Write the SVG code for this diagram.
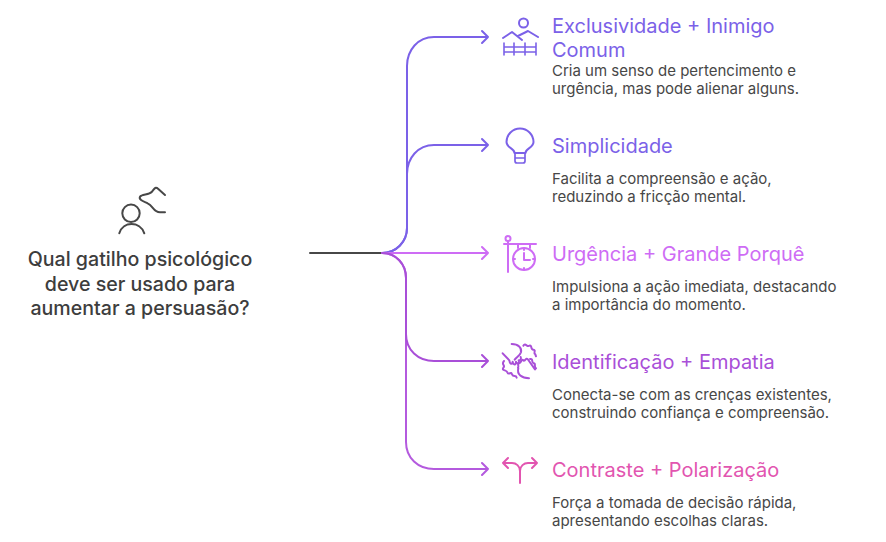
<svg xmlns="http://www.w3.org/2000/svg" width="886" height="542" viewBox="0 0 886 542">
<style>
text{font-family:Inter,"Liberation Sans",sans-serif}
.t{font-size:20px}
.d{font-size:15px;fill:#474747}
.q{font-size:19.600px;font-weight:500;fill:#3d3d3d;text-anchor:middle}
.l{fill:none;stroke-width:2;stroke-linecap:round;stroke-linejoin:round}
.i{fill:none;stroke-width:2;stroke-linecap:round;stroke-linejoin:round}
.z{stroke-width:6}
.a{stroke:#7b61e8}.c{stroke:#ce6cf5}.e{stroke:#a94fd8}.f{stroke:#e255b0}
</style>
<rect width="886" height="542" fill="#fff"/>
<g id="connectors">
<path class="l" stroke="#474747" d="M310 253H382"/>
<path class="l a" d="M382 253C396 253 407 242 407 228V66C407 50 418 37 434 37H488M482 31l6 6-6 6"/>
<path class="l a" d="M382 253C396 253 407 242 407 228V174C407 158 418 145 434 145H488M482 139l6 6-6 6"/>
<path class="l c" d="M382 253H488M482 247l6 6-6 6"/>
<path class="l" stroke="#b45ade" d="M382 253C396 253 406 264 406 278V442C406 458 418 469 434 469H488M482 463l6 6-6 6"/>
<path class="l e" d="M382 253C396 253 406 264 406 278V334C406 350 418 361 434 361H488M482 355l6 6-6 6"/>
</g>
<g id="root">
<g class="i" stroke="#474747">
<circle cx="131" cy="213.300" r="8.700"/>
<path d="M119.300 233.300C123 221 140 221 144.300 233.300"/>
<path class="z" transform="translate(105 180) scale(.3333)" d="M180 45L160 27C150 18 147 28 140 36C132 45 110 42 105 50C100 60 118 65 128 70C145 78 145 97 165 97H180"/>
</g>
<text class="q" x="140" y="266">Qual gatilho psicológico</text>
<text class="q" x="140" y="291">deve ser usado para</text>
<text class="q" x="140" y="315">aumentar a persuasão?</text>
</g>
<g id="n1">
<g class="i a">
<circle cx="523.500" cy="23" r="4.500"/>
<path d="M503 38L512 32L522 40M518 36L528 31L538 37"/>
<path d="M504 43V55M514 43V55M525 43V55M536 43V55M504 47H536M504 52H536" stroke-width="1.600"/>
</g>
<text class="t" x="552" y="33" fill="#7b61e8">Exclusividade + Inimigo</text>
<text class="t" x="552" y="57" fill="#7b61e8">Comum</text>
<text class="d" x="552" y="75.500">Cria um senso de pertencimento e</text>
<text class="d" x="552" y="93.500">urgência, mas pode alienar alguns.</text>
</g>
<g id="n2">
<g class="i a">
<path d="M514.500 153C514.500 148 506.500 148 506.500 142A13.500 13.500 0 0 1 533.500 142C533.500 148 525.500 148 525.500 153Z"/>
<path d="M515 153V161Q515 163 517 163H523Q525 163 525 161V153M515 158H525" stroke-width="1.700"/>
</g>
<text class="t" x="552" y="153" fill="#7b61e8">Simplicidade</text>
<text class="d" x="552" y="184">Facilita a compreensão e ação,</text>
<text class="d" x="552" y="202">reduzindo a fricção mental.</text>
</g>
<g id="n3">
<g class="i c">
<circle cx="508" cy="238.500" r="2.500"/>
<path d="M508 241V272M504 244H536M518 244V248M530 244V248"/>
<circle cx="524" cy="259" r="11"/>
<path d="M524 253V260H530M524 248.500V250M524 268V269.500M513.500 259H515M533 259H534.500"/>
</g>
<text class="t" x="552" y="261" fill="#ce6cf5">Urgência + Grande Porquê</text>
<text class="d" x="552" y="292">Impulsiona a ação imediata, destacando</text>
<text class="d" x="552" y="310">a importância do momento.</text>
</g>
<g id="n4">
<g class="i e z" transform="translate(490 335) scale(.3333)">
<path d="M65 27C85 27 96 38 93 52C90 62 80 66 74 74"/>
<path d="M38 55L58 76C60 90 68 88 68 80C70 92 78 90 78 80C82 90 90 84 86 76C92 76 94 72 92 66"/>
<path d="M42 78C32 88 48 92 40 98C34 108 50 104 52 112C56 122 64 108 66 118C70 128 78 118 80 128"/>
<path d="M100 32C106 22 112 38 118 32C128 30 120 44 130 44C140 46 128 54 136 58L138 64"/>
<path d="M135 103L115 75C109 64 103 82 100 76C94 70 94 84 88 84C80 86 88 94 84 98"/>
<path d="M85 100C80 118 95 130 117 130"/>
<path d="M120 72C130 70 124 82 130 84C140 86 130 94 138 100"/>
</g>
<text class="t" x="552" y="369" fill="#a94fd8">Identificação + Empatia</text>
<text class="d" x="552" y="400">Conecta-se com as crenças existentes,</text>
<text class="d" x="552" y="418">construindo confiança e compreensão.</text>
</g>
<g id="n5">
<g class="i f">
<path d="M520 483V471C520 466 516 463 512 463H503M508 458L503 463L508 468"/>
<path d="M520 471C520 466 524 463 528 463H537M532 458L537 463L532 468"/>
</g>
<text class="t" x="552" y="477" fill="#e255b0">Contraste + Polarização</text>
<text class="d" x="552" y="508">Força a tomada de decisão rápida,</text>
<text class="d" x="552" y="526">apresentando escolhas claras.</text>
</g>
</svg>
